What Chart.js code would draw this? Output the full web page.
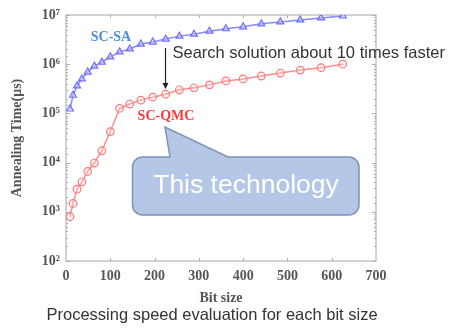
<!DOCTYPE html>
<html>
<head>
<meta charset="utf-8">
<script src="https://cdn.jsdelivr.net/npm/chart.js@4/dist/chart.umd.min.js"></script>
<style>
  html, body { margin: 0; padding: 0; background: #fff; }
  #wrap { width: 472px; height: 328px; }
</style>
</head>
<body>
<div id="wrap"><canvas id="speedchart" width="472" height="328"></canvas></div>
<script>
// data
const bitSizes = [9, 16, 25, 36, 49, 64, 81, 100, 121, 144, 169, 196, 225, 256, 289, 324, 361, 400, 441, 484, 529, 576, 625];
const saTimes = [123000, 234000, 363000, 501000, 692000, 912000, 1100000, 1410000, 1780000, 2040000, 2570000, 2820000,
  3240000, 3720000, 4070000, 4680000, 5250000, 5750000, 6610000, 7240000, 7940000, 8710000, 9550000];
const qmcTimes = [794, 1480, 2880, 4070, 6600, 9800, 17400, 42700, 126000, 155000, 186000, 214000,
  245000, 302000, 331000, 380000, 457000, 501000, 575000, 661000, 759000, 851000, 1000000];
const xTicks = [0, 100, 200, 300, 400, 500, 600, 700];
const yTickLabels = ['10²', '10³', '10⁴', '10⁵', '10⁶', '10⁷'];

const serif = '"Liberation Serif", "DejaVu Serif", serif';
const sans = '"Liberation Sans", Arial, sans-serif';

// box, inward ticks and the annotations
const decor = {
  id: 'decor',
  beforeDatasetsDraw(chart) {
    const ctx = chart.ctx;
    const a = chart.chartArea;
    const xs = chart.scales.x, ys = chart.scales.y;
    ctx.save();
    ctx.strokeStyle = '#c4c4c4';
    ctx.lineWidth = 1.5;
    ctx.strokeRect(a.left, a.top, a.right - a.left, a.bottom - a.top);
    ctx.lineWidth = 1;
    ctx.strokeStyle = '#b0b0b0';
    ctx.beginPath();
    xTicks.slice(1, -1).forEach(v => {
      const px = Math.round(xs.getPixelForValue(v)) + 0.5;
      ctx.moveTo(px, a.bottom); ctx.lineTo(px, a.bottom - 3);
      ctx.moveTo(px, a.top); ctx.lineTo(px, a.top + 3);
    });
    ys.ticks.forEach(t => {
      const e = Math.log10(t.value);
      const major = Math.abs(e - Math.round(e)) < 1e-6;
      const len = major ? 4 : 2;
      const py = Math.round(ys.getPixelForValue(t.value)) + 0.5;
      ctx.moveTo(a.left, py); ctx.lineTo(a.left + len, py);
      ctx.moveTo(a.right, py); ctx.lineTo(a.right - len, py);
    });
    ctx.stroke();
    ctx.restore();
  },
  afterDraw(chart) {
    const ctx = chart.ctx;
    ctx.save();
    ctx.textBaseline = 'middle';
    ctx.textAlign = 'center';
    ctx.font = 'bold 14px ' + serif;
    ctx.fillStyle = '#4b8fd9';
    ctx.fillText('SC-SA', 111, 37);
    ctx.fillStyle = '#ff3838';
    ctx.fillText('SC-QMC', 166, 116);

    // arrow
    ctx.strokeStyle = '#222';
    ctx.fillStyle = '#222';
    ctx.lineWidth = 1.2;
    ctx.beginPath();
    ctx.moveTo(165.5, 48); ctx.lineTo(165.5, 84);
    ctx.stroke();
    ctx.beginPath();
    ctx.moveTo(162.5, 83); ctx.lineTo(168.5, 83); ctx.lineTo(165.5, 89); ctx.closePath();
    ctx.fill();

    ctx.textAlign = 'left';
    ctx.fillStyle = '#333';
    ctx.font = '16.5px ' + sans;
    ctx.fillText('Search solution about 10 times faster', 172.5, 53);
    ctx.fillText('Processing speed evaluation for each bit size', 46.5, 315);

    // callout
    const l = 132.5, t = 157, r = 359, b = 215, rad = 10;
    ctx.beginPath();
    ctx.moveTo(l + rad, t);
    ctx.lineTo(170, t);
    ctx.lineTo(165, 127);
    ctx.lineTo(228, t);
    ctx.lineTo(r - rad, t);
    ctx.arcTo(r, t, r, t + rad, rad);
    ctx.lineTo(r, b - rad);
    ctx.arcTo(r, b, r - rad, b, rad);
    ctx.lineTo(l + rad, b);
    ctx.arcTo(l, b, l, b - rad, rad);
    ctx.lineTo(l, t + rad);
    ctx.arcTo(l, t, l + rad, t, rad);
    ctx.closePath();
    ctx.fillStyle = '#b4c7e7';
    ctx.fill();
    ctx.strokeStyle = '#7f93b4';
    ctx.lineWidth = 1.5;
    ctx.stroke();
    ctx.textAlign = 'center';
    ctx.fillStyle = '#fff';
    ctx.font = '26.5px ' + sans;
    ctx.fillText('This technology', 246, 186);
    ctx.restore();
  }
};

const data = {
  datasets: [
    {
      label: 'SC-SA',
      data: bitSizes.map((x, i) => ({x: x, y: saTimes[i]})),
      borderColor: '#8a8aff',
      borderWidth: 1.5,
      pointStyle: 'triangle',
      pointRadius: 4,
      pointBorderColor: '#6e6eff',
      pointBackgroundColor: 'rgba(200,200,255,0.5)',
      pointBorderWidth: 1.2,
      tension: 0
    },
    {
      label: 'SC-QMC',
      data: bitSizes.map((x, i) => ({x: x, y: qmcTimes[i]})),
      borderColor: '#ff8c8c',
      borderWidth: 1.5,
      pointStyle: 'circle',
      pointRadius: 3.8,
      pointBorderColor: '#ff7a7a',
      pointBackgroundColor: 'rgba(255,220,220,0.3)',
      pointBorderWidth: 1.2,
      tension: 0
    }
  ]
};

const config = {
  type: 'line',
  data,
  options: {
    responsive: false,
    animation: false,
    layout: { padding: { left: 0, right: 96, top: 15, bottom: 0 } },
    plugins: { legend: { display: false }, tooltip: { enabled: false } },
    scales: {
      x: {
        type: 'linear',
        min: 0,
        max: 700,
        afterFit: s => { s.height = 67; },
        afterBuildTicks: s => { s.ticks = xTicks.map(v => ({value: v})); },
        grid: { display: false, drawTicks: false },
        border: { display: false },
        ticks: { padding: 7, color: '#555', font: { family: serif, size: 14, weight: 'bold' } },
        title: {
          display: true, text: 'Bit size', color: '#555',
          font: { family: serif, size: 14, weight: 'bold' },
          padding: { top: 0, bottom: 21 }
        }
      },
      y: {
        type: 'logarithmic',
        min: 100,
        max: 10000000,
        afterFit: s => { s.width = 66; },
        grid: { display: false, drawTicks: false },
        border: { display: false },
        ticks: {
          autoSkip: false,
          padding: 6,
          color: '#555',
          font: { family: serif, size: 14, weight: 'bold' },
          callback: v => {
            const e = Math.log10(v);
            return Math.abs(e - Math.round(e)) < 1e-6 ? yTickLabels[Math.round(e) - 2] : '';
          }
        },
        title: {
          display: true, text: 'Annealing Time(μs)', color: '#555',
          font: { family: serif, size: 14, weight: 'bold' },
          padding: { top: 9, bottom: 0 }
        }
      }
    }
  },
  plugins: [decor]
};

const speedchart = new Chart(document.getElementById('speedchart'), config);
</script>
</body>
</html>
